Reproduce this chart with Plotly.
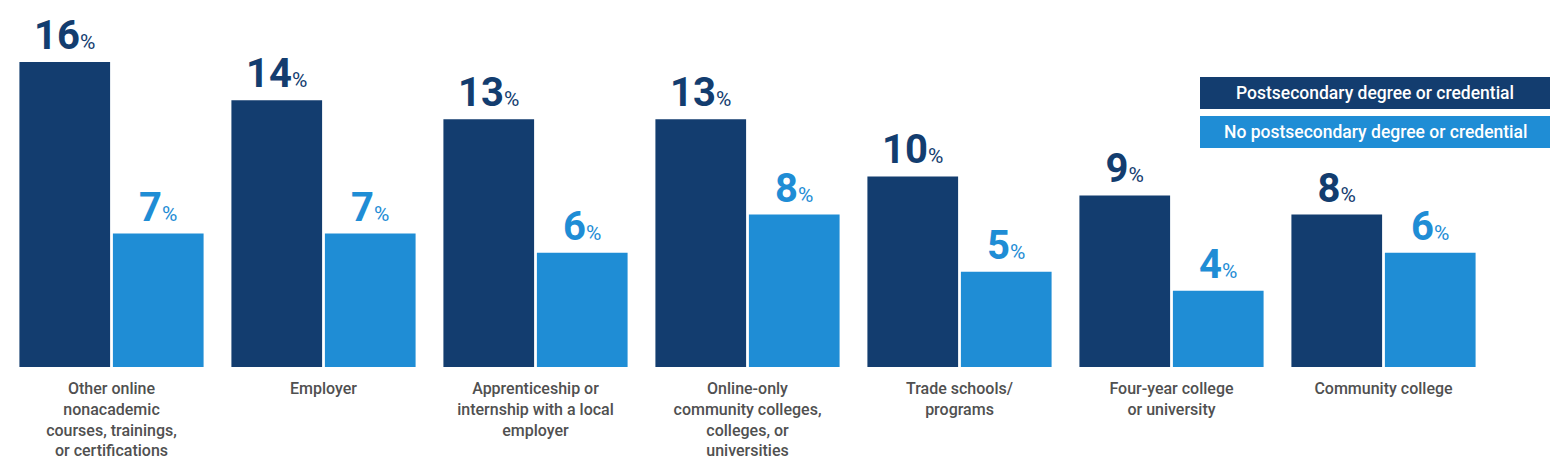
import plotly.graph_objects as go

categories = [
    "Other online<br>nonacademic<br>courses, trainings,<br>or certifications",
    "Employer",
    "Apprenticeship or<br>internship with a local<br>employer",
    "Online-only<br>community colleges,<br>colleges, or<br>universities",
    "Trade schools/<br>programs",
    "Four-year college<br>or university",
    "Community college",
]
series_names = ["Postsecondary degree or credential", "No postsecondary degree or credential"]
post_vals = [16, 14, 13, 13, 10, 9, 8]
nopost_vals = [7, 7, 6, 8, 5, 4, 6]

DARK = "#133d6f"
LIGHT = "#1f8dd5"
FONT = "Roboto"

# page has an 8px body margin; figure sized to fit inside 1560x473 window
OFF = 8
W, H = 1560 - 2 * OFF, 473 - 2 * OFF
ml, mr, mt = 0, 44, 0
base_page = 367
ph = base_page - OFF - mt
mb = H - mt - ph
pw = W - ml - mr
px_per_cat = 212.0
first_center_page = 111.5
r0 = -(first_center_page - OFF - ml) / px_per_cat
r1 = r0 + pw / px_per_cat
px_per_unit = 19.06

fig = go.Figure()
for name, vals, col in [(series_names[0], post_vals, DARK), (series_names[1], nopost_vals, LIGHT)]:
    fig.add_trace(go.Bar(
        x=categories, y=vals, name=name, marker=dict(color=col, line=dict(width=0)),
        texttemplate="<b>%{y}</b><span style='font-size:21px'>%</span>",
        textposition="outside", textfont=dict(family=FONT, size=40, color=col),
        constraintext="none", cliponaxis=False, showlegend=False,
    ))

fig.update_layout(
    width=W, height=H, margin=dict(l=ml, r=mr, t=mt, b=mb, autoexpand=False),
    paper_bgcolor="white", plot_bgcolor="white",
    barmode="group", bargap=0.118, bargroupgap=0.03,
    font=dict(family=FONT),
    xaxis=dict(range=[r0, r1], showgrid=False, showline=False, ticks="", zeroline=False, automargin=False,
               tickfont=dict(family=FONT, size=16, color="#505050", weight=500), ticklabelstandoff=10),
    yaxis=dict(range=[0, ph / px_per_unit], visible=False, showgrid=False, zeroline=False, automargin=False),
)

# legend boxes (page pixel positions converted to paper coords)
boxes = [(77, 109, DARK, series_names[0]), (116, 148, LIGHT, series_names[1])]
x0p = (1200 - OFF - ml) / pw
x1p = (1550 - OFF - ml) / pw
for top, bot, col, txt in boxes:
    y0p = 1 - (bot - OFF - mt) / ph
    y1p = 1 - (top - OFF - mt) / ph
    fig.add_shape(type="rect", xref="paper", yref="paper", x0=x0p, x1=x1p, y0=y0p, y1=y1p,
                  fillcolor=col, line=dict(width=0), layer="above")
    fig.add_annotation(xref="paper", yref="paper", x=(x0p + x1p) / 2, y=(y0p + y1p) / 2,
                       text=txt, showarrow=False, xanchor="center", yanchor="middle",
                       font=dict(family=FONT, size=17.5, color="white", weight=500))

fig.write_html("out.html")
